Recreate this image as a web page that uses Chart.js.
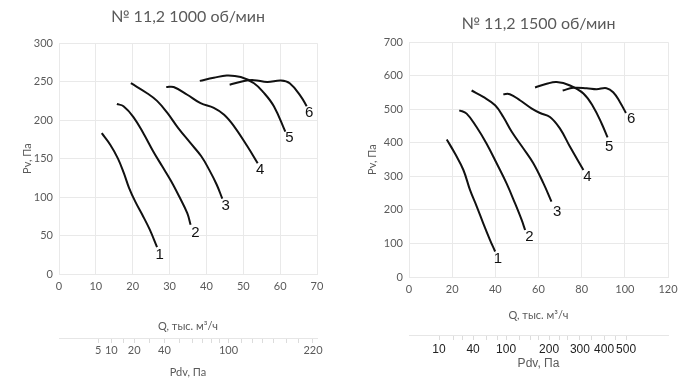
<!DOCTYPE html>
<html><head><meta charset="utf-8">
<script src="https://cdn.jsdelivr.net/npm/chart.js@4.4.0/dist/chart.umd.min.js"></script>
<style>
html,body{margin:0;padding:0;background:#fff;}
#wrap{position:relative;width:700px;height:382px;overflow:hidden;background:#fff;}
.box{position:absolute;top:0;width:350px;height:382px;}
</style></head><body>
<div id="wrap">
<div class="box" style="left:0"><canvas id="c1" width="350" height="382"></canvas></div>
<div class="box" style="left:350px"><canvas id="c2" width="350" height="382"></canvas></div>
</div>
<script>
// ---------- Left chart: 1000 об/мин ----------
const L_TITLE = "№ 11,2 1000 об/мин";
const L1_Q = [11.6, 13.9, 16.0, 17.6, 19.0, 20.7, 22.6, 24.6, 26.6];
const L1_P = [183, 168, 150, 131, 112, 94, 77, 58, 35];
const L2_Q = [15.7, 17.5, 20.2, 23.0, 25.5, 28.0, 30.4, 32.7, 34.8, 35.7];
const L2_P = [221, 218, 204, 182, 160, 140, 121, 100, 79, 64];
const L3_Q = [19.5, 23.9, 26.6, 29.3, 32.3, 35.7, 38.6, 40.8, 42.8, 44.3];
const L3_P = [248, 235, 225, 210, 190, 170, 153, 135, 116, 98];
const L4_Q = [29.1, 31.1, 34.8, 38.4, 42.0, 44.8, 47.5, 51.1, 53.9];
const L4_P = [243, 243, 233, 222, 216, 207, 192, 166, 144];
const L5_Q = [38.2, 42.0, 45.5, 49.3, 52.9, 55.5, 58.3, 61.4];
const L5_P = [251, 255, 258, 256, 248, 236, 218, 185];
const L6_Q = [46.3, 50.2, 52.9, 56.5, 60.2, 62.6, 65.6, 67.2];
const L6_P = [246, 251, 252, 249.5, 251.5, 248, 231, 218];
const L_NUM_Q = [27.3, 37.0, 45.2, 54.6, 62.5, 67.9];
const L_NUM_P = [25, 53, 88, 135, 177, 210];
const L_PDV_LABELS = ["5", "10", "20", "40", "100", "220"];
const L_PDV_LABEL_Q = [10.6, 14.2, 20.4, 28.6, 46.0, 68.9];
const L_PDV_MINOR_Q = [17.5, 24.5, 32.7, 36.2, 38.9, 41.4, 43.6, 49.5, 52.5, 55.3, 58.3, 61.6, 65.0];

// ---------- Right chart: 1500 об/мин ----------
const R_TITLE = "№ 11,2 1500 об/мин";
const R1_Q = [17.5, 21.3, 25.2, 28.3, 31.4, 34.4, 37.5, 39.9];
const R1_P = [410, 368, 319, 259, 210, 160, 111, 76];
const R2_Q = [23.3, 26.7, 31.3, 35.9, 40.6, 45.2, 49.1, 52.2, 53.8];
const R2_P = [497, 487, 447, 398, 339, 279, 220, 170, 140];
const R3_Q = [29.0, 34.4, 39.9, 43.7, 47.6, 53.0, 57.6, 62.3, 66.0];
const R3_P = [556, 537, 512, 477, 433, 383, 339, 279, 225];
const R4_Q = [43.7, 46.7, 51.4, 56.9, 60.7, 65.3, 69.9, 74.6, 80.8];
const R4_P = [545, 545, 527, 502, 489, 477, 443, 388, 319];
const R5_Q = [58.4, 63.8, 68.4, 74.6, 80.8, 85.4, 89.3, 92.0];
const R5_P = [565, 576, 581, 571, 547, 507, 457, 416];
const R6_Q = [71.2, 76.1, 82.3, 86.9, 91.5, 94.6, 97.7, 100.5];
const R6_P = [556, 564, 563, 560, 563, 551, 522, 489];
const R_NUM_Q = [41.2, 55.8, 68.7, 82.7, 92.8, 102.9];
const R_NUM_P = [55, 120, 193, 299, 388, 472];
const R_PDV_LABELS = ["10", "40", "100", "200", "300", "400", "500"];
const R_PDV_LABEL_Q = [13.9, 29.7, 45.0, 64.9, 79.2, 90.4, 100.6];
const R_PDV_MINOR_Q = [20.4, 25.0, 36.1, 40.8, 51.4, 56.5, 60.0, 69.5, 73.5, 84.5, 95.5];

const CURVE_NAMES = ["1", "2", "3", "4", "5", "6"];
const GRID = '#e9e9e9';
const TXT = '#5a5a5a';
const GEO_FONT = "Lato, 'Open Sans', sans-serif";

function pts(q, p) { return q.map((x, i) => ({x: x, y: p[i]})); }

function buildPdvTicks(labelQ, labels, minorQ) {
  const arr = labelQ.map((q, i) => ({q: q, t: labels[i]}));
  minorQ.forEach(q => arr.push({q: q, t: ''}));
  arr.sort((a, b) => a.q - b.q);
  return arr;
}

const numberPlugin = {
  id: 'numbers',
  afterDatasetsDraw(chart, args, opts) {
    const ctx = chart.ctx;
    const xs = chart.scales.x, ys = chart.scales.y;
    ctx.save();
    ctx.fillStyle = '#111';
    ctx.font = "15px 'Liberation Sans', Arial, sans-serif";
    ctx.textAlign = 'center';
    ctx.textBaseline = 'middle';
    opts.q.forEach((q, i) => {
      ctx.fillText(opts.names[i], xs.getPixelForValue(q), ys.getPixelForValue(opts.p[i]));
    });
    ctx.restore();
  }
};

function makeChart(id, c) {
  const pdv = buildPdvTicks(c.pdvQ, c.pdvLabels, c.pdvMinor);
  const datasets = c.curves.map(cv => ({
    data: pts(cv[0], cv[1]),
    borderColor: '#111',
    borderWidth: 2,
    pointRadius: 0,
    fill: false,
    tension: 0.4
  }));
  return new Chart(document.getElementById(id), {
    type: 'line',
    data: {datasets: datasets},
    plugins: [numberPlugin],
    options: {
      responsive: false,
      animation: false,
      devicePixelRatio: 1,
      layout: {padding: {left: 0, right: c.padRight, top: 0, bottom: 0}},
      plugins: {
        legend: {display: false},
        tooltip: {enabled: false},
        title: {
          display: true, text: c.title, fullSize: false,
          color: TXT, font: {family: GEO_FONT, size: 16, weight: 'normal'},
          padding: {top: c.titleTop, bottom: c.titleBottom}
        },
        numbers: {q: c.numQ, p: c.numP, names: CURVE_NAMES}
      },
      scales: {
        x: {
          type: 'linear', position: 'bottom', min: 0, max: c.xMax,
          ticks: {stepSize: c.xStep, color: TXT, padding: 6, font: {family: GEO_FONT, size: 11}, maxRotation: 0},
          grid: {color: GRID, drawTicks: false},
          border: {color: GRID},
          title: {display: true, text: 'Q, тыс. м³/ч', color: TXT, font: {family: GEO_FONT, size: 11}, padding: {top: 0, bottom: c.qTitleBottom}},
          afterFit: s => { s.height = c.qHeight; }
        },
        x2: {
          type: 'linear', position: 'bottom', min: 0, max: c.xMax,
          afterBuildTicks: s => { s.ticks = pdv.map(t => ({value: t.q})); },
          ticks: {
            autoSkip: false, maxRotation: 0, minRotation: 0, padding: c.pdvPad,
            color: c.pdvColor, font: c.pdvFont,
            callback: (v, i) => (pdv[i] ? pdv[i].t : '')
          },
          grid: {drawOnChartArea: false, drawTicks: true, tickLength: 5, color: '#dcdcdc'},
          border: {display: true, color: '#e6e6e6'},
          title: {display: true, text: 'Pdv, Па', color: TXT, font: c.pdvTitleFont, padding: {top: 0, bottom: c.pdvTitleBottom}},
          afterFit: s => { s.height = c.pdvHeight; }
        },
        y: {
          type: 'linear', position: 'left', min: 0, max: c.yMax,
          ticks: {stepSize: c.yStep, color: TXT, padding: 6, font: {family: GEO_FONT, size: 11}},
          grid: {color: GRID, drawTicks: false},
          border: {color: GRID},
          title: {display: true, text: 'Pv, Па', color: TXT, font: {family: GEO_FONT, size: 11}, padding: {top: c.yTitlePad, bottom: 0}},
          afterFit: s => { s.width = 59; }
        }
      }
    }
  });
}

makeChart('c1', {
  title: L_TITLE, titleTop: 7, titleBottom: 17, padRight: 33,
  xMax: 70, xStep: 10, yMax: 300, yStep: 50,
  curves: [[L1_Q, L1_P], [L2_Q, L2_P], [L3_Q, L3_P], [L4_Q, L4_P], [L5_Q, L5_P], [L6_Q, L6_P]],
  numQ: L_NUM_Q, numP: L_NUM_P,
  pdvQ: L_PDV_LABEL_Q, pdvLabels: L_PDV_LABELS, pdvMinor: L_PDV_MINOR_Q,
  qHeight: 64, qTitleBottom: 5,
  pdvHeight: 44, pdvPad: 1, pdvTitleBottom: 3,
  pdvColor: TXT, pdvFont: {family: GEO_FONT, size: 11},
  pdvTitleFont: {family: GEO_FONT, size: 11},
  yTitlePad: 21
});

makeChart('c2', {
  title: R_TITLE, titleTop: 14, titleBottom: 9, padRight: 32,
  xMax: 120, xStep: 20, yMax: 700, yStep: 100,
  curves: [[R1_Q, R1_P], [R2_Q, R2_P], [R3_Q, R3_P], [R4_Q, R4_P], [R5_Q, R5_P], [R6_Q, R6_P]],
  numQ: R_NUM_Q, numP: R_NUM_P,
  pdvQ: R_PDV_LABEL_Q, pdvLabels: R_PDV_LABELS, pdvMinor: R_PDV_MINOR_Q,
  qHeight: 58, qTitleBottom: 13,
  pdvHeight: 47, pdvPad: 2, pdvTitleBottom: 11,
  pdvColor: '#222', pdvFont: {family: "'Liberation Sans', Arial, sans-serif", size: 12},
  pdvTitleFont: {family: "'Liberation Sans', Arial, sans-serif", size: 12},
  yTitlePad: 16
});
</script>
</body></html>
